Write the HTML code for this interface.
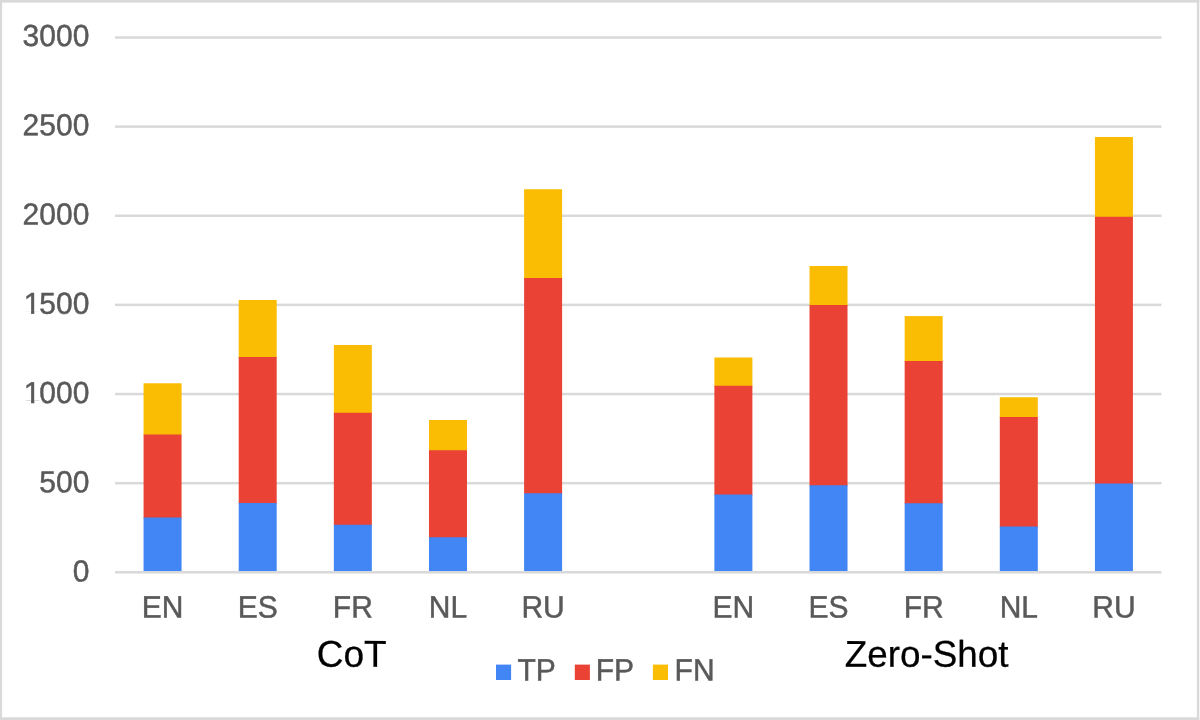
<!DOCTYPE html>
<html><head><meta charset="utf-8"><title>chart</title>
<style>
html,body{margin:0;padding:0;background:#fff;}
body{width:1200px;height:720px;overflow:hidden;font-family:"Liberation Sans",sans-serif;}
svg{display:block;position:absolute;left:0;top:0;will-change:transform;}
text{font-family:"Liberation Sans",sans-serif;text-rendering:geometricPrecision;}
</style></head><body>
<svg width="1200" height="720" viewBox="0 0 1200 720">
<rect x="0" y="0" width="1200" height="720" fill="#ffffff"/>
<rect x="0" y="0" width="1199.3" height="2.6" fill="#d9d9d9"/>
<rect x="0" y="717.3" width="1199.3" height="2.7" fill="#d9d9d9"/>
<rect x="0" y="0" width="2.1" height="720" fill="#d9d9d9"/>
<rect x="1196.9" y="0" width="2.4" height="720" fill="#d9d9d9"/>
<rect x="115.0" y="36.25" width="1046.5" height="2.5" fill="#d9d9d9"/>
<rect x="115.0" y="125.38" width="1046.5" height="2.5" fill="#d9d9d9"/>
<rect x="115.0" y="214.52" width="1046.5" height="2.5" fill="#d9d9d9"/>
<rect x="115.0" y="303.65" width="1046.5" height="2.5" fill="#d9d9d9"/>
<rect x="115.0" y="392.78" width="1046.5" height="2.5" fill="#d9d9d9"/>
<rect x="115.0" y="481.92" width="1046.5" height="2.5" fill="#d9d9d9"/>
<rect x="143.57" y="383.25" width="38.0" height="52.25" fill="#fbbc04"/><rect x="143.57" y="434.50" width="38.0" height="84.00" fill="#ea4335"/><rect x="143.57" y="517.50" width="38.0" height="54.00" fill="#4285f4"/>
<rect x="238.70" y="300.00" width="38.0" height="58.00" fill="#fbbc04"/><rect x="238.70" y="357.00" width="38.0" height="147.00" fill="#ea4335"/><rect x="238.70" y="503.00" width="38.0" height="68.50" fill="#4285f4"/>
<rect x="333.84" y="345.00" width="38.0" height="68.75" fill="#fbbc04"/><rect x="333.84" y="412.75" width="38.0" height="113.00" fill="#ea4335"/><rect x="333.84" y="524.75" width="38.0" height="46.75" fill="#4285f4"/>
<rect x="428.98" y="420.00" width="38.0" height="31.25" fill="#fbbc04"/><rect x="428.98" y="450.25" width="38.0" height="88.00" fill="#ea4335"/><rect x="428.98" y="537.25" width="38.0" height="34.25" fill="#4285f4"/>
<rect x="524.11" y="189.25" width="38.0" height="89.75" fill="#fbbc04"/><rect x="524.11" y="278.00" width="38.0" height="216.25" fill="#ea4335"/><rect x="524.11" y="493.25" width="38.0" height="78.25" fill="#4285f4"/>
<rect x="714.39" y="357.50" width="38.0" height="29.25" fill="#fbbc04"/><rect x="714.39" y="385.75" width="38.0" height="109.75" fill="#ea4335"/><rect x="714.39" y="494.50" width="38.0" height="77.00" fill="#4285f4"/>
<rect x="809.52" y="266.00" width="38.0" height="40.00" fill="#fbbc04"/><rect x="809.52" y="305.00" width="38.0" height="181.25" fill="#ea4335"/><rect x="809.52" y="485.25" width="38.0" height="86.25" fill="#4285f4"/>
<rect x="904.66" y="316.10" width="38.0" height="45.90" fill="#fbbc04"/><rect x="904.66" y="361.00" width="38.0" height="143.25" fill="#ea4335"/><rect x="904.66" y="503.25" width="38.0" height="68.25" fill="#4285f4"/>
<rect x="999.80" y="397.25" width="38.0" height="20.75" fill="#fbbc04"/><rect x="999.80" y="417.00" width="38.0" height="110.50" fill="#ea4335"/><rect x="999.80" y="526.50" width="38.0" height="45.00" fill="#4285f4"/>
<rect x="1094.93" y="137.00" width="38.0" height="80.75" fill="#fbbc04"/><rect x="1094.93" y="216.75" width="38.0" height="267.75" fill="#ea4335"/><rect x="1094.93" y="483.50" width="38.0" height="88.00" fill="#4285f4"/>
<rect x="115.0" y="571.05" width="1046.5" height="2.5" fill="#d9d9d9"/>
<text transform="matrix(1,0.001,0,1.012,89.35,46.10)" font-size="30" fill="#595959" stroke="#595959" stroke-width="0.48" text-anchor="end">3000</text>
<text transform="matrix(1,0.001,0,1.012,89.35,135.34)" font-size="30" fill="#595959" stroke="#595959" stroke-width="0.48" text-anchor="end">2500</text>
<text transform="matrix(1,0.001,0,1.012,89.35,224.59)" font-size="30" fill="#595959" stroke="#595959" stroke-width="0.48" text-anchor="end">2000</text>
<text transform="matrix(1,0.001,0,1.012,23.81,313.83)" font-size="30" fill="#595959" stroke="#595959" stroke-width="0.48">1</text><rect x="24.21" y="311.08" width="6.86" height="3.6" fill="#ffffff"/><rect x="34.29" y="311.08" width="5.6" height="3.6" fill="#ffffff"/>
<text transform="matrix(1,0.001,0,1.012,89.35,313.83)" font-size="30" fill="#595959" stroke="#595959" stroke-width="0.48" text-anchor="end">500</text>
<text transform="matrix(1,0.001,0,1.012,23.81,403.07)" font-size="30" fill="#595959" stroke="#595959" stroke-width="0.48">1</text><rect x="24.21" y="400.32" width="6.86" height="3.6" fill="#ffffff"/><rect x="34.29" y="400.32" width="5.6" height="3.6" fill="#ffffff"/>
<text transform="matrix(1,0.001,0,1.012,89.35,403.07)" font-size="30" fill="#595959" stroke="#595959" stroke-width="0.48" text-anchor="end">000</text>
<text transform="matrix(1,0.001,0,1.012,89.35,492.32)" font-size="30" fill="#595959" stroke="#595959" stroke-width="0.48" text-anchor="end">500</text>
<text transform="matrix(1,0.001,0,1.012,89.35,581.56)" font-size="30" fill="#595959" stroke="#595959" stroke-width="0.48" text-anchor="end">0</text>
<text transform="matrix(1,0.001,0,1.027,162.57,617.4)" font-size="30" fill="#595959" stroke="#595959" stroke-width="0.48" text-anchor="middle">EN</text>
<text transform="matrix(1,0.001,0,1.027,257.70,617.4)" font-size="30" fill="#595959" stroke="#595959" stroke-width="0.48" text-anchor="middle">ES</text>
<text transform="matrix(1,0.001,0,1.027,352.84,617.4)" font-size="30" fill="#595959" stroke="#595959" stroke-width="0.48" text-anchor="middle">FR</text>
<text transform="matrix(1,0.001,0,1.027,447.98,617.4)" font-size="30" fill="#595959" stroke="#595959" stroke-width="0.48" text-anchor="middle">NL</text>
<text transform="matrix(1,0.001,0,1.027,543.11,617.4)" font-size="30" fill="#595959" stroke="#595959" stroke-width="0.48" text-anchor="middle">RU</text>
<text transform="matrix(1,0.001,0,1.027,733.39,617.4)" font-size="30" fill="#595959" stroke="#595959" stroke-width="0.48" text-anchor="middle">EN</text>
<text transform="matrix(1,0.001,0,1.027,828.52,617.4)" font-size="30" fill="#595959" stroke="#595959" stroke-width="0.48" text-anchor="middle">ES</text>
<text transform="matrix(1,0.001,0,1.027,923.66,617.4)" font-size="30" fill="#595959" stroke="#595959" stroke-width="0.48" text-anchor="middle">FR</text>
<text transform="matrix(1,0.001,0,1.027,1018.80,617.4)" font-size="30" fill="#595959" stroke="#595959" stroke-width="0.48" text-anchor="middle">NL</text>
<text transform="matrix(1,0.001,0,1.027,1113.93,617.4)" font-size="30" fill="#595959" stroke="#595959" stroke-width="0.48" text-anchor="middle">RU</text>
<text transform="matrix(1,0.001,0,1.012,351.75,666.75)" font-size="37" fill="#000000" stroke="#000000" stroke-width="0.25" text-anchor="middle">CoT</text>
<text transform="matrix(1,0.001,0,1.012,926.55,666.75)" font-size="36.85" fill="#000000" stroke="#000000" stroke-width="0.25" text-anchor="middle">Zero-Shot</text>
<rect x="496" y="664.6" width="15.1" height="15.4" fill="#4285f4"/><text transform="matrix(1,0.001,0,1.027,517.4,680.5)" font-size="30" fill="#595959" stroke="#595959" stroke-width="0.48">TP</text>
<rect x="574.8" y="664.6" width="15.1" height="15.4" fill="#ea4335"/><text transform="matrix(1,0.001,0,1.027,595.7,680.5)" font-size="30" fill="#595959" stroke="#595959" stroke-width="0.48">FP</text>
<rect x="652.9" y="664.6" width="15.1" height="15.4" fill="#fbbc04"/><text transform="matrix(1,0.001,0,1.027,674.6,680.5)" font-size="30" fill="#595959" stroke="#595959" stroke-width="0.48">FN</text>
</svg>
</body></html>
